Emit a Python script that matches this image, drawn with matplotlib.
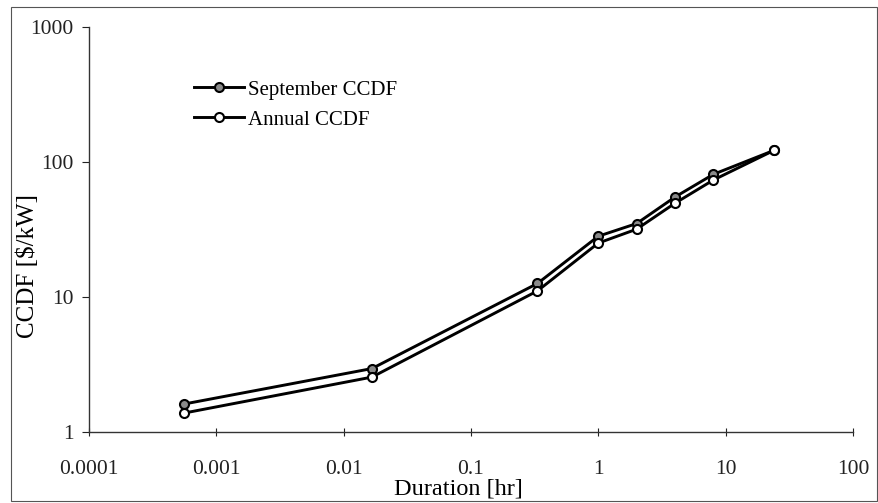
import numpy as np
import matplotlib.pyplot as plt
from matplotlib.patches import Rectangle

# Outage duration [hr] and CCDF values [$/kW]
duration = [0.000556, 0.01667, 0.333, 1, 2, 4, 8, 24]
sept_ccdf = [1.61, 2.95, 12.6, 28.2, 35.0, 55.0, 81.0, 122]
annual_ccdf = [1.38, 2.55, 11.1, 25.1, 31.8, 49.5, 73.5, 122]

xticks = [0.0001, 0.001, 0.01, 0.1, 1, 10, 100]
xtick_labels = ["0.0001", "0.001", "0.01", "0.1", "1", "10", "100"]
yticks = [1, 10, 100, 1000]
ytick_labels = ["1", "10", "100", "1000"]

plt.rcParams['font.family'] = ['Liberation Serif', 'DejaVu Serif']

fig = plt.figure(figsize=(8.79, 5.03), dpi=100)
ax = fig.add_axes([0.1013, 0.1412, 0.869, 0.805])

ax.plot(duration, sept_ccdf, color='black', lw=2.1, marker='o', ms=6.5,
        mfc='#8a8a8a', mec='black', mew=1.5, label='September CCDF')
ax.plot(duration, annual_ccdf, color='black', lw=2.1, marker='o', ms=6.5,
        mfc='white', mec='black', mew=1.5, label='Annual CCDF')

ax.set_xscale('log')
ax.set_yscale('log')
ax.set_xlim(0.0001, 100)
ax.set_ylim(1, 1000)
ax.set_xticks(xticks)
ax.set_xticklabels(xtick_labels)
ax.set_yticks(yticks)
ax.set_yticklabels(ytick_labels)
ax.minorticks_off()

for side in ['top', 'right']:
    ax.spines[side].set_visible(False)
for side in ['left', 'bottom']:
    ax.spines[side].set_linewidth(1.0)
    ax.spines[side].set_color('#333333')

ax.tick_params(axis='x', direction='inout', length=6, width=0.8,
               labelsize=15.5, pad=17, colors='#222222')
ax.tick_params(axis='y', direction='out', length=5, width=0.8,
               labelsize=15.5, pad=6, colors='#222222')

ax.set_xlabel('Duration [hr]', fontsize=17.5)
ax.xaxis.set_label_coords(0.483, -0.115)
ax.set_ylabel('CCDF [\\$/kW]', fontsize=18)
ax.yaxis.set_label_coords(-0.066, 0.41)

leg = ax.legend(loc='upper left', bbox_to_anchor=(0.126, 0.89), frameon=False,
                fontsize=15, handlelength=2.4, handletextpad=0.2,
                labelspacing=0.5, borderaxespad=0)

# thin frame around the whole figure
fig.patches.append(Rectangle((0.0125, 0.004), 0.985, 0.982,
                             transform=fig.transFigure, fill=False,
                             ec='#555555', lw=0.8))

fig.savefig('out.png', dpi=100)
